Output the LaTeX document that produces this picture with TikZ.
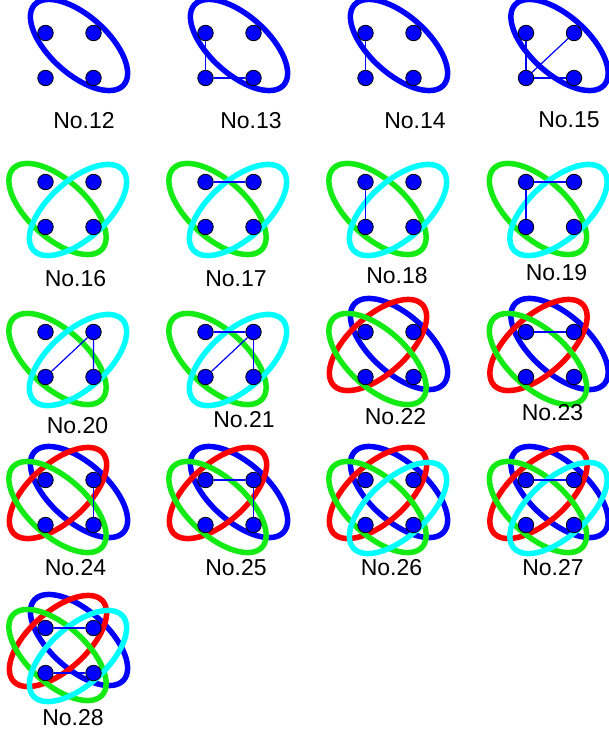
\documentclass[tikz,border=0pt]{standalone}
\usepackage{fontspec}
\setmainfont{Liberation Sans}
\usepackage{tikz}
\definecolor{ringblue}{RGB}{0,0,255}
\definecolor{ringred}{RGB}{255,0,0}
\definecolor{ringgreen}{RGB}{20,235,20}
\definecolor{ringcyan}{RGB}{0,255,255}

\begin{document}
\begin{tikzpicture}[
        x=1pt,
        y=-1pt,
        dot/.style={circle,draw=black,fill=ringblue,line width=0.8pt,minimum size=15.5pt,inner sep=0pt},
        link/.style={ringblue,line width=1.2pt},
        ring/.style={line width=5.5pt},
        lbl/.style={anchor=base,font=\fontsize{23}{26}\selectfont},
        quad/.pic={
            \node[dot] (-a) at (0,0) {};
            \node[dot] (-b) at (48,0) {};
            \node[dot] (-c) at (0,45) {};
            \node[dot] (-d) at (48,45) {};
        },
        bluering/.pic={\draw[ring,ringblue,shift={(33.5,12)},rotate=-42] (0,0) ellipse (60 and 29);},
        redring/.pic={\draw[ring,ringred,shift={(12.5,13)},rotate=42] (0,0) ellipse (60 and 29);},
        greenring/.pic={\draw[ring,ringgreen,shift={(12,27)},rotate=-42] (0,0) ellipse (60 and 29);},
        cyanring/.pic={\draw[ring,ringcyan,shift={(32.5,28)},rotate=42] (0,0) ellipse (60 and 29);}
    ]
        \useasboundingbox (0,0) rectangle (609,736);
        % one ring
        \pic at (45.5,33) {bluering};  \pic (p12) at (45.5,33) {quad};
        \pic at (205.5,33) {bluering}; \pic (p13) at (205.5,33) {quad};
        \pic at (365.5,33) {bluering}; \pic (p14) at (365.5,33) {quad};
        \pic at (526,33) {bluering};   \pic (p15) at (526,33) {quad};
        \draw[link] (p13-a) -- (p13-c) -- (p13-d);
        \draw[link] (p14-a) -- (p14-c);
        \draw[link] (p15-a) -- (p15-c) -- (p15-d);
        \draw[link] (p15-c) -- (p15-b);
        \node[lbl] (t12) at (84,128) {No.12};
        \node[lbl] (t13) at (251,128) {No.13};
        \node[lbl] (t14) at (415,128) {No.14};
        \node[lbl] (t15) at (569,127) {No.15};
        % two rings
        \pic at (45.5,182) {greenring};  \pic at (45.5,182) {cyanring};  \pic (p16) at (45.5,182) {quad};
        \pic at (205.5,182) {greenring}; \pic at (205.5,182) {cyanring}; \pic (p17) at (205.5,182) {quad};
        \pic at (365.5,182) {greenring}; \pic at (365.5,182) {cyanring}; \pic (p18) at (365.5,182) {quad};
        \pic at (526,182) {greenring};   \pic at (526,182) {cyanring};   \pic (p19) at (526,182) {quad};
        \pic at (45.5,332) {greenring};  \pic at (45.5,332) {cyanring};  \pic (p20) at (45.5,332) {quad};
        \pic at (205.5,332) {greenring}; \pic at (205.5,332) {cyanring}; \pic (p21) at (205.5,332) {quad};
        \draw[link] (p17-a) -- (p17-b);
        \draw[link] (p18-a) -- (p18-c);
        \draw[link] (p19-c) -- (p19-a) -- (p19-b);
        \draw[link] (p20-c) -- (p20-b) -- (p20-d);
        \draw[link] (p21-a) -- (p21-b) -- (p21-d);
        \draw[link] (p21-c) -- (p21-b);
        \node[lbl] (t16) at (75.5,286) {No.16};
        \node[lbl] (t17) at (236,286) {No.17};
        \node[lbl] (t18) at (397,283) {No.18};
        \node[lbl] (t19) at (556.5,280) {No.19};
        \node[lbl] (t20) at (77.5,433) {No.20};
        \node[lbl] (t21) at (244,427) {No.21};
        % three rings
        \pic at (365.5,332) {bluering}; \pic at (365.5,332) {redring}; \pic at (365.5,332) {greenring}; \pic (p22) at (365.5,332) {quad};
        \pic at (526,332) {bluering};   \pic at (526,332) {redring};   \pic at (526,332) {greenring};   \pic (p23) at (526,332) {quad};
        \pic at (45.5,480) {bluering};  \pic at (45.5,480) {redring};  \pic at (45.5,480) {greenring};  \pic (p24) at (45.5,480) {quad};
        \pic at (205.5,480) {bluering}; \pic at (205.5,480) {redring}; \pic at (205.5,480) {greenring}; \pic (p25) at (205.5,480) {quad};
        \draw[link] (p23-a) -- (p23-b);
        \draw[link] (p24-b) -- (p24-d);
        \draw[link] (p25-a) -- (p25-b) -- (p25-d);
        \node[lbl] (t22) at (395.5,424) {No.22};
        \node[lbl] (t23) at (552.5,420) {No.23};
        \node[lbl] (t24) at (75.5,575) {No.24};
        \node[lbl] (t25) at (236,575) {No.25};
        % four rings
        \pic at (365.5,480) {bluering}; \pic at (365.5,480) {redring}; \pic at (365.5,480) {greenring}; \pic at (365.5,480) {cyanring}; \pic (p26) at (365.5,480) {quad};
        \pic at (526,480) {bluering};   \pic at (526,480) {redring};   \pic at (526,480) {greenring};   \pic at (526,480) {cyanring};   \pic (p27) at (526,480) {quad};
        \pic at (45.5,628) {bluering};  \pic at (45.5,628) {redring};  \pic at (45.5,628) {greenring};  \pic at (45.5,628) {cyanring};  \pic (p28) at (45.5,628) {quad};
        \draw[link] (p27-a) -- (p27-b);
        \draw[link] (p28-a) -- (p28-b);
        \draw[link] (p28-c) -- (p28-d);
        \node[lbl] (t26) at (391.5,575) {No.26};
        \node[lbl] (t27) at (553,575) {No.27};
        \node[lbl] (t28) at (73,725) {No.28};
\end{tikzpicture}
\end{document}
